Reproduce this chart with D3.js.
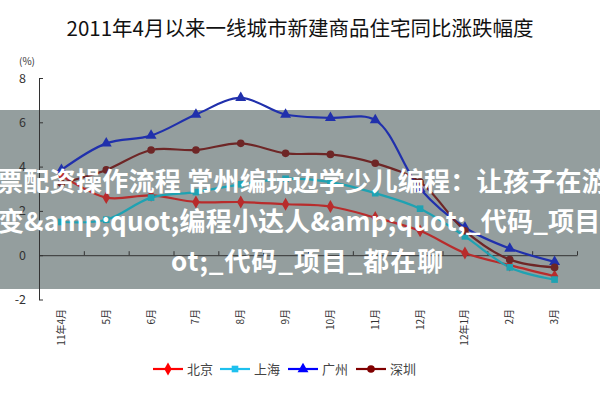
<!DOCTYPE html>
<html><head><meta charset="utf-8">
<script src="https://cdn.jsdelivr.net/npm/d3@7"></script>
<style>
html,body{margin:0;padding:0;background:#fff;}
svg{display:block;}
text{font-family:"Noto Sans CJK SC","Noto Sans",sans-serif;}
</style></head>
<body>
<svg id="chart" width="600" height="400"></svg>
<script>
const title = "2011年4月以来一线城市新建商品住宅同比涨跌幅度";
const categories = ["11年4月","5月","6月","7月","8月","9月","10月","11月","12月","12年1月","2月","3月"];
const beijing   = [3.6, 2.6, 2.7, 2.4, 2.4, 2.3, 2.2, 1.7, 1.1, 0.1, -0.45, -0.95];
const shanghai  = [1.5, 1.6, 2.6, 2.85, 3.2, 3.45, 3.3, 2.8, 2.1, 0.85, -0.55, -1.1];
const guangzhou = [3.85, 5.05, 5.4, 6.35, 7.1, 6.35, 6.2, 6.1, 3.0, 1.25, 0.3, -0.3];
const shenzhen  = [3.25, 3.85, 4.75, 4.75, 5.05, 4.6, 4.55, 4.15, 3.3, 1.1, -0.2, -0.55];
const seriesNames = ["北京","上海","广州","深圳"];
const yTicks = [-2, 0, 2, 4, 6, 8];
const bannerLines = [
  "票配资操作流程 常州编玩边学少儿编程：让孩子在游",
  "变&amp;quot;编程小达人&amp;quot;_代码_项目_",
  "ot;_代码_项目_都在聊"
];

const series = [
  {name: seriesNames[0], values: beijing,   line: "#b82c2c", legend: "#ff0000", sym: d3.symbolDiamond,  size: 48},
  {name: seriesNames[1], values: shanghai,  line: "#1fa2b2", legend: "#1ec0ee", sym: d3.symbolSquare,   size: 44},
  {name: seriesNames[2], values: guangzhou, line: "#2030ac", legend: "#0000ff", sym: d3.symbolTriangle, size: 52},
  {name: seriesNames[3], values: shenzhen,  line: "#6e2626", legend: "#800000", sym: d3.symbolCircle,   size: 46}
];

const svg = d3.select("#chart");
const x0 = 39, x1 = 577;
const x = d3.scaleBand().domain(categories).range([x0, x1]).padding(0);
const xb = d3.scaleLinear().domain([0, categories.length]).range([x0, x1]);
const y = d3.scaleLinear().domain([-2, 8]).range([299.5, 78]);
const cx = c => x(c) + x.bandwidth() / 2;

// banner background
svg.append("rect").attr("x", 0).attr("y", 110).attr("width", 600).attr("height", 179).attr("fill", "#949e9e");

// title
svg.append("text").attr("x", 300).attr("y", 36).attr("text-anchor", "middle")
  .attr("font-size", 20.5).attr("fill", "#111").text(title);

// (%) unit
svg.append("text").attr("x", 27).attr("y", 65).attr("text-anchor", "middle")
  .attr("font-size", 10).attr("fill", "#333").text("(%)");

// y axis
const yAxis = d3.axisLeft(y).tickValues(yTicks).tickSize(-4).tickPadding(13).tickSizeOuter(0)
  .tickFormat(d => d < 0 ? "-" + Math.abs(d) : d);
const gy = svg.append("g").attr("transform", `translate(${x0},0)`).call(yAxis);
gy.select(".domain").attr("stroke", "#333");
gy.selectAll(".tick line").attr("stroke", "#333");
gy.selectAll(".tick text").attr("font-size", 12.5).attr("fill", "#333")
  .attr("font-family", "'Liberation Sans', Arial, sans-serif");

// x axis line with boundary ticks at y=0
const xAxis = d3.axisBottom(xb).tickValues(d3.range(0, categories.length + 1)).tickSize(-4).tickSizeOuter(0).tickFormat("");
const gx = svg.append("g").attr("transform", `translate(0,${y(0)})`).call(xAxis);
gx.select(".domain").attr("stroke", "#333");
gx.selectAll(".tick line").attr("stroke", "#333");

// category labels, rotated
const labelAxis = d3.axisBottom(x).tickSize(0).tickPadding(0);
const gl = svg.append("g").attr("transform", "translate(0,309)").call(labelAxis);
gl.select(".domain").remove();
gl.selectAll(".tick text")
  .attr("transform", "rotate(-90)")
  .attr("text-anchor", "end")
  .attr("x", 0).attr("y", 0).attr("dy", "0.35em")
  .attr("font-size", 10).attr("fill", "#333");

// lines
const lineGen = d3.line().x((d, i) => cx(categories[i])).y(d => y(d)).curve(d3.curveCatmullRom.alpha(0.5));
series.forEach(s => {
  svg.append("path").datum(s.values).attr("d", lineGen)
    .attr("fill", "none").attr("stroke", s.line).attr("stroke-width", 2.2);
});
series.forEach(s => {
  svg.append("g").selectAll("path").data(s.values).join("path")
    .attr("d", d3.symbol().type(s.sym).size(s.size))
    .attr("transform", (d, i) => `translate(${cx(categories[i])},${y(d)})`)
    .attr("fill", s.line);
});

// banner text
const bannerPos = [{x: -3, y: 191, ls: 0.3}, {x: -2, y: 231, ls: 0.2}, {x: 171, y: 271, ls: 0.9}];
bannerLines.forEach((t, i) => {
  svg.append("text").attr("x", bannerPos[i].x).attr("y", bannerPos[i].y)
    .attr("font-size", 26).attr("font-weight", "bold").attr("fill", "#ffffff")
    .attr("letter-spacing", bannerPos[i].ls)
    .attr("font-family", "'Noto Sans CJK SC', sans-serif").text(t);
});

// legend
const legendX = [153, 220, 288, 356];
const ly = 369;
series.forEach((s, i) => {
  const g = svg.append("g").attr("transform", `translate(${legendX[i]},${ly})`);
  g.append("line").attr("x1", 0).attr("x2", 30).attr("y1", 0).attr("y2", 0)
    .attr("stroke", s.legend).attr("stroke-width", 2.2);
  g.append("path").attr("d", d3.symbol().type(s.sym).size(s.size)).attr("transform", "translate(15,0)").attr("fill", s.legend);
  g.append("text").attr("x", 34).attr("y", 0).attr("dy", "0.36em").attr("font-size", 13).attr("fill", "#444").text(s.name);
});
</script>
</body></html>
